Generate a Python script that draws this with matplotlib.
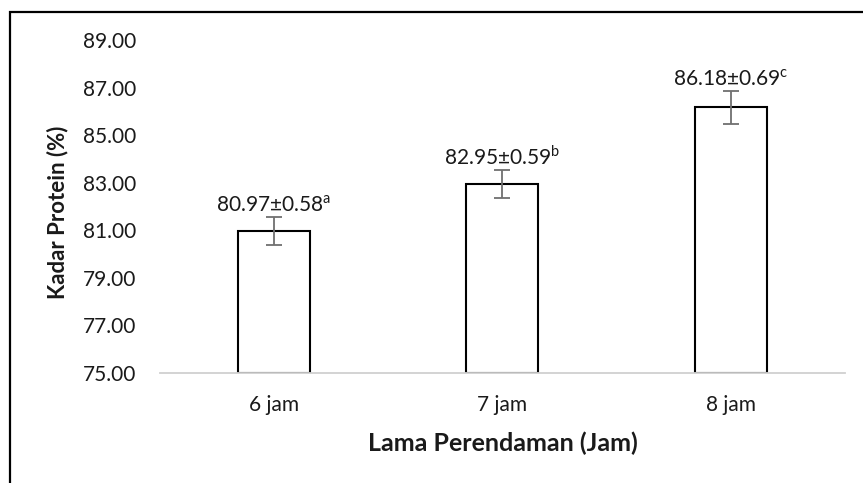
import matplotlib
matplotlib.use("Agg")
import matplotlib.pyplot as plt
from matplotlib.patches import Rectangle

categories = ["6 jam", "7 jam", "8 jam"]
means = [80.97, 82.95, 86.18]
errors = [0.58, 0.59, 0.69]
letters = ["a", "b", "c"]
yticks = [75, 77, 79, 81, 83, 85, 87, 89]

plt.rcParams["font.family"] = ["Lato", "DejaVu Sans"]
plt.rcParams["mathtext.fontset"] = "custom"
plt.rcParams["mathtext.rm"] = "Lato"

fig = plt.figure(figsize=(8.63, 4.83), dpi=100)
ax = fig.add_axes([0.1854, 0.2277, 0.7936, 0.6893])

base = 75
x = range(len(categories))
heights = [m - base for m in means]
ax.bar(x, heights, bottom=base, width=0.315, color="white",
       edgecolor="black", linewidth=1.5, zorder=2)
ax.errorbar(x, means, yerr=errors, fmt="none", ecolor="#707070",
            elinewidth=1.3, capsize=5.5, capthick=1.3, zorder=3)

for xi, m, e, l in zip(x, means, errors, letters):
    ax.annotate(f"{m:.2f}\u00b1{e:.2f}$^{{\\mathrm{{{l}}}}}$", (xi, m + e),
                xytext=(0, 1), textcoords="offset points",
                ha="center", va="bottom", fontsize=15, color="#1a1a1a")

ax.set_xlim(-0.5, 2.5)
ax.set_ylim(75, 89)
ax.set_yticks(yticks)
ax.set_yticklabels([f"{v:.2f}" for v in yticks], fontsize=15, color="#1a1a1a")
ax.set_xticks(list(x))
ax.set_xticklabels(categories, fontsize=15, color="#1a1a1a")
ax.tick_params(length=0, pad=17, axis="y")
ax.tick_params(length=0, pad=16, axis="x")

for s in ["top", "right", "left"]:
    ax.spines[s].set_visible(False)
ax.spines["bottom"].set_color("#d0d0d0")
ax.spines["bottom"].set_linewidth(1.3)
ax.spines["bottom"].set_zorder(4)

ax.set_xlabel("Lama Perendaman (Jam)", fontsize=18, fontweight="bold",
              labelpad=12, color="#1a1a1a")
fig.text(0.067, 0.561, "Kadar Protein (%)", rotation=90, ha="center",
         va="center", fontsize=16, fontweight="bold", color="#1a1a1a")

fig.patches.append(Rectangle((9.5 / 863, -0.01), 1.0, 1 - 12 / 483 + 0.01,
                             transform=fig.transFigure, fill=False,
                             edgecolor="black", linewidth=1.6))

fig.savefig("out.png", dpi=100)
